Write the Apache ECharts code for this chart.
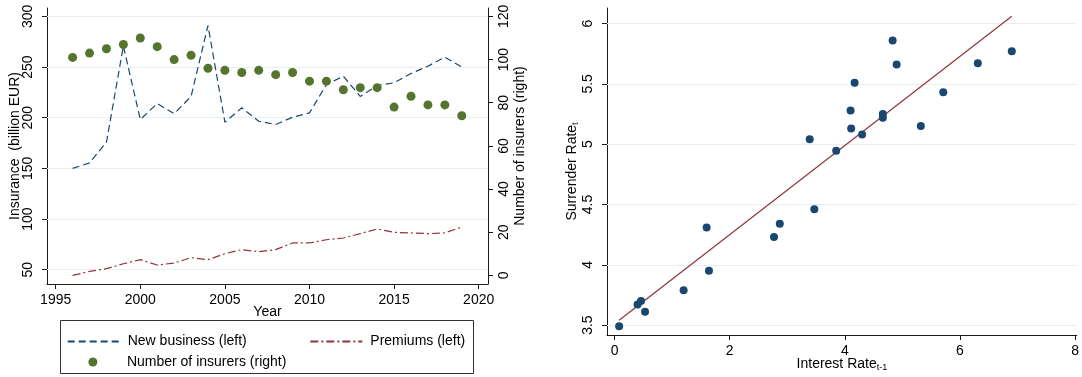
<!DOCTYPE html>
<html>
<head>
<meta charset="utf-8">
<script src="https://cdn.jsdelivr.net/npm/echarts@6/dist/echarts.min.js"></script>
<style>
html,body{margin:0;padding:0;background:#fff;}
#c{width:1082px;height:377px;}
</style>
</head>
<body>
<div id="c"></div>
<script>
// ---- Left panel data ----
const years = [1996,1997,1998,1999,2000,2001,2002,2003,2004,2005,2006,2007,2008,2009,2010,2011,2012,2013,2014,2015,2016,2017,2018,2019];
const newBusiness = [150,155.4,175.8,270.8,198.2,214,204,221,291,195.6,209.8,196.5,193.3,200.5,204.8,232.8,241,221,231.8,234.5,243.7,250.9,259.8,250];
const premiums = [44.4,48.3,51,55.9,59.9,54.6,56.6,61.9,59.9,65.8,69.8,67.8,69.8,76.4,76.4,79.6,81.3,85.6,90.2,86.9,86.3,85.6,86.3,92.2];
const insurers = [101,103,105,107,110,106,100,102,96,95,94,95,93,94,90,90,86,87,87,78,83,79,79,74];
const leftYTicks = [50,100,150,200,250,300];
const rightYTicks = [0,20,40,60,80,100,120];
const yearTicks = [1995,2000,2005,2010,2015,2020];

// ---- Right panel data ----
const interestRate = [0.08,0.40,0.46,0.53,1.20,1.60,1.64,2.77,2.87,3.39,3.47,3.85,4.10,4.11,4.17,4.30,4.66,4.66,4.83,4.90,5.32,5.71,6.31,6.90];
const surrenderRate = [3.49,3.67,3.70,3.61,3.79,4.31,3.95,4.23,4.34,5.04,4.46,4.945,5.28,5.13,5.51,5.08,5.25,5.22,5.86,5.66,5.15,5.43,5.67,5.77];
const fitX = [0.08,6.90];
const fitY = [3.54,6.06];
const srTicks = [3.5,4,4.5,5,5.5,6];
const irTicks = [0,2,4,6,8];

const FONT = 'Liberation Sans, Arial, sans-serif';
const NAVY = '#1a476f', MAROON = '#90353b', GREEN = '#55752f', GRID = '#e8eff1', AX = '#1a1a1a';

const zip = (a,b) => a.map((v,i)=>[v,b[i]]);
const lbl = (extra) => Object.assign({color:'#000', fontSize:14, fontFamily:FONT}, extra||{});
const plain = v => String(v);

const option = {
  animation:false,
  backgroundColor:'#fff',
  grid:[
    {left:47, top:8, width:441, height:276},
    {left:607, top:8, width:473, height:331}
  ],
  xAxis:[
    {type:'value', gridIndex:0, min:1994.486, max:2020.55,
     name:'Year', nameLocation:'middle', nameGap:21, nameMoveOverlap:false,
     nameTextStyle:lbl(),
     axisLine:{show:true, onZero:false, lineStyle:{color:AX,width:1}},
     axisTick:{show:true, length:5, customValues:yearTicks, lineStyle:{color:AX}},
     axisLabel:lbl({margin:9, customValues:yearTicks, formatter:plain}),
     splitLine:{show:false}},
    {type:'value', gridIndex:1, min:-0.131, max:8.029,
     name:'{a|Interest Rate}{s|t-1}', nameLocation:'middle', nameGap:21, nameMoveOverlap:false,
     nameTextStyle:{rich:{a:lbl({lineHeight:16}), s:lbl({fontSize:9, lineHeight:16, verticalAlign:'bottom', padding:[6,0,0,0]})}},
     axisLine:{show:true, onZero:false, lineStyle:{color:AX,width:1}},
     axisTick:{show:true, length:5, customValues:irTicks, lineStyle:{color:AX}},
     axisLabel:lbl({margin:9, customValues:irTicks, formatter:plain}),
     splitLine:{show:false}}
  ],
  yAxis:[
    {type:'value', gridIndex:0, min:35.9, max:308.3, position:'left',
     name:'Insurance  (billion EUR)', nameLocation:'middle', nameRotate:90, nameGap:25, nameMoveOverlap:false,
     nameTextStyle:lbl(),
     axisLine:{show:true, onZero:false, lineStyle:{color:AX,width:1}},
     axisTick:{show:true, length:5, customValues:leftYTicks, lineStyle:{color:AX}},
     axisLabel:lbl({rotate:90, margin:12, customValues:leftYTicks, formatter:plain}),
     splitLine:{show:false}},
    {type:'value', gridIndex:0, min:-3.98, max:123.9, position:'right',
     name:'Number of insurers (right)', nameLocation:'middle', nameRotate:90, nameGap:25, nameMoveOverlap:false,
     nameTextStyle:lbl(),
     axisLine:{show:true, onZero:false, lineStyle:{color:AX,width:1}},
     axisTick:{show:true, length:5, customValues:rightYTicks, lineStyle:{color:AX}},
     axisLabel:lbl({rotate:90, margin:9, customValues:rightYTicks, formatter:plain}),
     splitLine:{show:false}},
    {type:'value', gridIndex:1, min:3.418, max:6.129, position:'left',
     name:'{a|Surrender Rate}{s|t}', nameLocation:'middle', nameRotate:90, nameGap:27, nameMoveOverlap:false,
     nameTextStyle:{rich:{a:lbl({lineHeight:16}), s:lbl({fontSize:9, lineHeight:16, verticalAlign:'bottom', padding:[6,0,0,0]})}},
     axisLine:{show:true, onZero:false, lineStyle:{color:AX,width:1}},
     axisTick:{show:true, length:5, customValues:srTicks, lineStyle:{color:AX}},
     axisLabel:lbl({rotate:90, margin:12, customValues:srTicks, formatter:plain}),
     splitLine:{show:false}}
  ],
  legend:[
    {left:66.7, top:334.5, padding:0, itemWidth:52, itemHeight:14,
     data:[{name:'New business (left)', itemStyle:{opacity:0}}], textStyle:lbl({padding:[0,0,0,3]}), selectedMode:false},
    {left:309.3, top:334.5, padding:0, itemWidth:52, itemHeight:14,
     data:[{name:'Premiums (left)', itemStyle:{opacity:0}}], textStyle:lbl({padding:[0,0,0,3]}), selectedMode:false},
    {left:88.4, top:355, padding:0, itemWidth:52, itemHeight:9, icon:'circle',
     data:['Number of insurers (right)'], textStyle:lbl({padding:[0,0,0,3]}), selectedMode:false}
  ],
  graphic:[
    {type:'rect', shape:{x:60.5, y:320.5, width:413, height:53}, style:{fill:'none', stroke:'#333', lineWidth:1}, silent:true}
  ],
  series:[
    {name:'New business (left)', type:'line', xAxisIndex:0, yAxisIndex:0, data:zip(years,newBusiness),
     symbol:'none', showSymbol:false, lineStyle:{color:NAVY, width:1.2, type:[7,4]}, itemStyle:{color:NAVY}, z:3,
     markLine:{silent:true, symbol:['none','none'], label:{show:false}, z:1, animation:false,
       lineStyle:{color:GRID, type:'solid', width:1.2}, emphasis:{disabled:true},
       data:leftYTicks.map(v=>({yAxis:v}))}},
    {name:'Premiums (left)', type:'line', xAxisIndex:0, yAxisIndex:0, data:zip(years,premiums),
     symbol:'none', showSymbol:false, lineStyle:{color:MAROON, width:1.2, type:[8,3,2,3]}, itemStyle:{color:MAROON}, z:3},
    {name:'Number of insurers (right)', type:'scatter', xAxisIndex:0, yAxisIndex:1, data:zip(years,insurers),
     symbol:'circle', symbolSize:9, itemStyle:{color:GREEN, opacity:1}, z:4},
    {name:'Surrender', type:'scatter', xAxisIndex:1, yAxisIndex:2, data:zip(interestRate,surrenderRate),
     symbol:'circle', symbolSize:8, itemStyle:{color:NAVY, opacity:1}, z:4},
    {name:'Fit', type:'line', xAxisIndex:1, yAxisIndex:2, data:zip(fitX,fitY),
     symbol:'none', showSymbol:false, lineStyle:{color:MAROON, width:1.2}, z:3,
     markLine:{silent:true, symbol:['none','none'], label:{show:false}, z:1, animation:false,
       lineStyle:{color:GRID, type:'solid', width:1.2}, emphasis:{disabled:true},
       data:srTicks.map(v=>({yAxis:v}))}}
  ]
};
const chart = echarts.init(document.getElementById('c'), null, {renderer:'canvas'});
chart.setOption(option);
</script>
</body>
</html>
